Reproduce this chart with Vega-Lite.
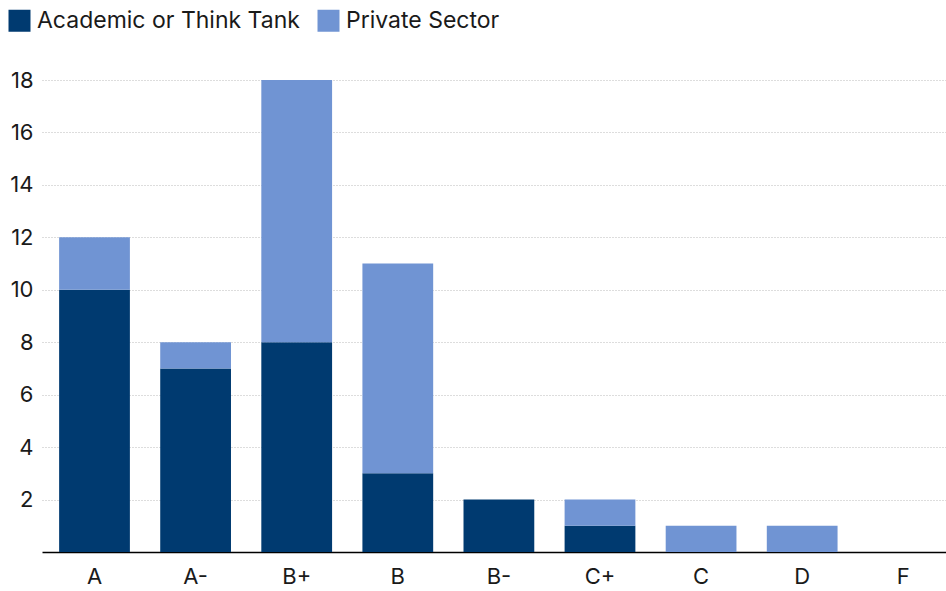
{
  "$schema": "https://vega.github.io/schema/vega-lite/v6.json",
  "width": 904,
  "height": 472,
  "autosize": {"type": "none"},
  "padding": {"left": 42, "top": 80, "right": 0, "bottom": 39},
  "background": "white",
  "config": {
    "font": "Inter",
    "view": {"stroke": null}
  },
  "data": {
    "values": [
      {"grade": "A", "group": "Academic or Think Tank", "count": 10},
      {"grade": "A", "group": "Private Sector", "count": 2},
      {"grade": "A-", "group": "Academic or Think Tank", "count": 7},
      {"grade": "A-", "group": "Private Sector", "count": 1},
      {"grade": "B+", "group": "Academic or Think Tank", "count": 8},
      {"grade": "B+", "group": "Private Sector", "count": 10},
      {"grade": "B", "group": "Academic or Think Tank", "count": 3},
      {"grade": "B", "group": "Private Sector", "count": 8},
      {"grade": "B-", "group": "Academic or Think Tank", "count": 2},
      {"grade": "B-", "group": "Private Sector", "count": 0},
      {"grade": "C+", "group": "Academic or Think Tank", "count": 1},
      {"grade": "C+", "group": "Private Sector", "count": 1},
      {"grade": "C", "group": "Academic or Think Tank", "count": 0},
      {"grade": "C", "group": "Private Sector", "count": 1},
      {"grade": "D", "group": "Academic or Think Tank", "count": 0},
      {"grade": "D", "group": "Private Sector", "count": 1},
      {"grade": "F", "group": "Academic or Think Tank", "count": 0},
      {"grade": "F", "group": "Private Sector", "count": 0}
    ]
  },
  "mark": {"type": "bar"},
  "encoding": {
    "x": {
      "field": "grade",
      "type": "nominal",
      "sort": ["A", "A-", "B+", "B", "B-", "C+", "C", "D", "F"],
      "scale": {"paddingInner": 0.3, "paddingOuter": 0.121, "align": 0.7},
      "axis": {
        "title": null,
        "labelAngle": 0,
        "labelFontSize": 22,
        "labelColor": "#1a1a1a",
        "labelPadding": 14,
        "ticks": false,
        "domainColor": "#000",
        "domainWidth": 1.5,
        "grid": false
      }
    },
    "y": {
      "field": "count",
      "type": "quantitative",
      "stack": "zero",
      "scale": {"domain": [0, 18], "nice": false},
      "axis": {
        "title": null,
        "values": [2, 4, 6, 8, 10, 12, 14, 16, 18],
        "labelFontSize": 22,
        "labelColor": "#1a1a1a",
        "labelPadding": 9,
        "ticks": false,
        "domain": false,
        "gridDash": [1, 2],
        "gridColor": "#bbb",
        "gridWidth": 1
      }
    },
    "color": {
      "field": "group",
      "type": "nominal",
      "scale": {
        "domain": ["Academic or Think Tank", "Private Sector"],
        "range": ["#003a70", "#7094d3"]
      },
      "legend": {
        "title": null,
        "orient": "none",
        "legendX": -34,
        "legendY": -71,
        "direction": "horizontal",
        "symbolType": "square",
        "symbolSize": 484,
        "symbolStrokeWidth": 0,
        "labelFontSize": 23,
        "labelLimit": 400,
        "labelColor": "#1a1a1a",
        "labelOffset": 6,
        "columnPadding": 17
      }
    },
    "order": {"field": "group", "sort": "ascending"}
  }
}
